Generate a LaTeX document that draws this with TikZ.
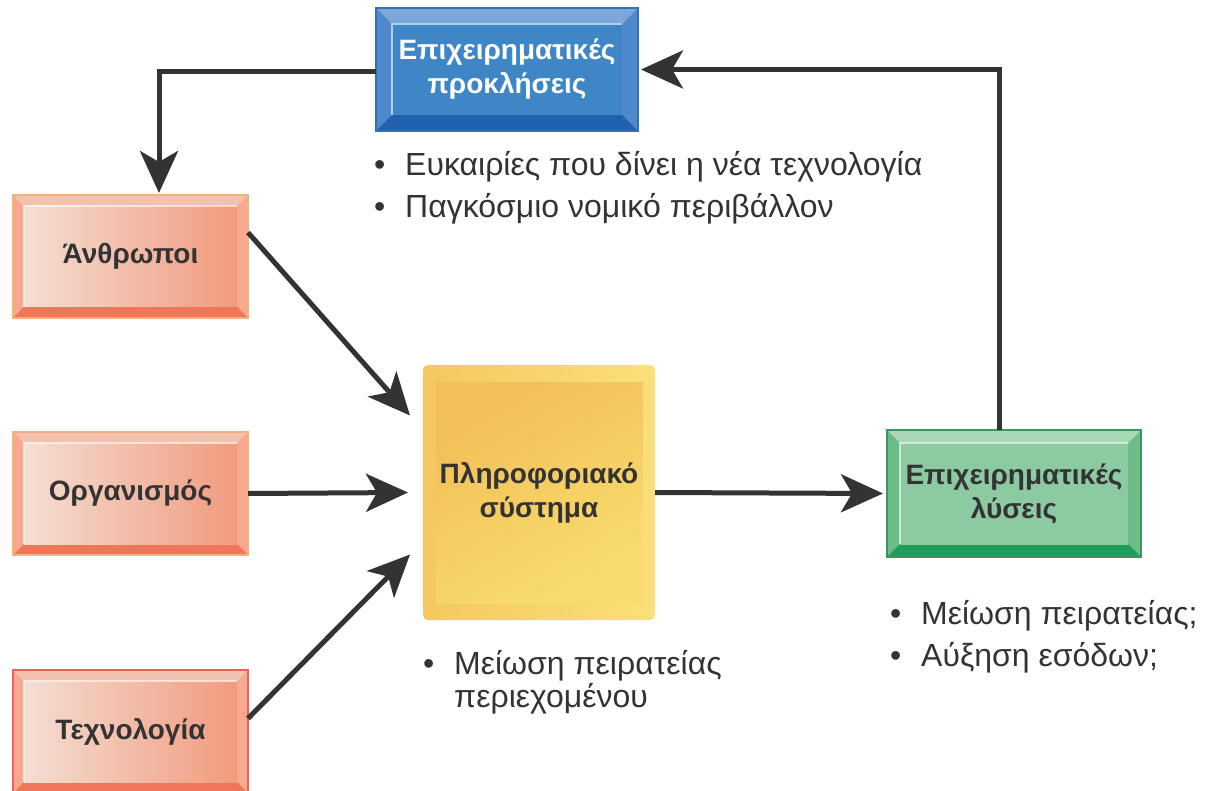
\documentclass[tikz,border=0pt]{standalone}
\usepackage{fontspec}
\setmainfont{Liberation Sans}
\usetikzlibrary{calc,arrows.meta,backgrounds}
\definecolor{ink}{HTML}{333333}
% salmon
\definecolor{salbd}{HTML}{F2B27A}
\definecolor{saltop}{HTML}{F3C2AE}
\definecolor{salside}{HTML}{F7A88E}
\definecolor{salbot}{HTML}{F0765A}
\definecolor{salinL}{HTML}{F4DED3}
\definecolor{salinR}{HTML}{F19B7E}
\definecolor{tecbd}{HTML}{F0605A}
% blue
\definecolor{blubd}{HTML}{2F72B8}
\definecolor{blutop}{HTML}{7BA7DA}
\definecolor{bluside}{HTML}{4F89CC}
\definecolor{blubot}{HTML}{1F62AE}
\definecolor{bluin}{HTML}{3E86C6}
% green
\definecolor{grnbd}{HTML}{3C9560}
\definecolor{grntop}{HTML}{A8D9B4}
\definecolor{grnside}{HTML}{6DBC88}
\definecolor{grnbot}{HTML}{1E9E58}
\definecolor{grnin}{HTML}{8CCAA2}
% yellow
\definecolor{yelA}{HTML}{F5C85E}
\definecolor{yelB}{HTML}{FAE07A}
\definecolor{yelC}{HTML}{F2BF58}
\definecolor{yelD}{HTML}{F8DD6E}
% bevel macro: name, border, top, side, bottom, inner-left, inner-right, width
\newcommand\bevbox[8]{%
  \fill[#4] (#1.north west) rectangle (#1.south east);
  \fill[#3] (#1.north west) -- (#1.north east) -- ($(#1.north east)+(-#8,#8)$) -- ($(#1.north west)+(#8,#8)$) -- cycle;
  \fill[#5] (#1.south west) -- (#1.south east) -- ($(#1.south east)+(-#8,-#8)$) -- ($(#1.south west)+(#8,-#8)$) -- cycle;
  \shade[left color=#6, right color=#7] ($(#1.north west)+(#8,#8)$) rectangle ($(#1.south east)+(-#8,-#8)$);
  \draw[white, opacity=0.6, line width=1.2pt] ($(#1.south west)+(#8,-#8)$) -- ($(#1.north west)+(#8,#8)$) -- ($(#1.north east)+(-#8,#8)$);
  \draw[#2, line width=1.5pt] (#1.north west) rectangle (#1.south east);
}
\newcommand\bl{\makebox[31pt][l]{•}}
\tikzset{
  lbl/.style={inner sep=0pt, outer sep=0pt, align=center, text=ink,
    font=\fontsize{28}{34}\selectfont\bfseries},
  bul/.style={inner sep=0pt, anchor=base west, text=ink,
    font=\fontsize{32}{42}\selectfont},
  arr/.style={draw=ink, line width=5pt,
    -{Stealth[length=42pt, width=38pt, inset=11pt]}},
}
\begin{document}
\begin{tikzpicture}[x=1pt, y=-1pt]
\useasboundingbox (0,0) rectangle (1205,791);
% boxes
\node[lbl, text=white, minimum width=262pt, minimum height=123pt] (chal) at (507,69.5) {Επιχειρηματικές\\προκλήσεις};
\node[lbl, minimum width=235pt, minimum height=123pt] (anthr) at (130.5,256.5) {Άνθρωποι};
\node[lbl, minimum width=235pt, minimum height=123pt] (org) at (130.5,493.5) {Οργανισμός};
\node[lbl, minimum width=235pt, minimum height=123pt] (tech) at (130.5,731.5) {Τεχνολογία};
\node[lbl, minimum width=232pt, minimum height=255pt] (info) at (539,492.5) {Πληροφοριακό\\σύστημα};
\node[lbl, minimum width=254pt, minimum height=127pt] (sol) at (1014,493.5) {Επιχειρηματικές\\λύσεις};
\begin{scope}[on background layer]
  \bevbox{chal}{blubd}{blutop}{bluside}{blubot}{bluin}{bluin}{16}
  \bevbox{anthr}{salbd}{saltop}{salside}{salbot}{salinL}{salinR}{11}
  \bevbox{org}{salbd}{saltop}{salside}{salbot}{salinL}{salinR}{11}
  \bevbox{tech}{tecbd}{saltop}{salside}{salbot}{salinL}{salinR}{11}
  \bevbox{sol}{grnbd}{grntop}{grnside}{grnbot}{grnin}{grnin}{13}
  \shade[left color=yelA, right color=yelB, rounded corners=5pt] (info.north west) rectangle (info.south east);
  \shade[top color=yelC, bottom color=yelD, shading angle=30]
    ($(info.north west)+(13,18)$) rectangle ($(info.south east)+(-12,-17)$);
\end{scope}
% bullet texts
\node[bul] (t1) at (374,176) {\bl Ευκαιρίες που δίνει η νέα τεχνολογία};
\node[bul] (t2) at (374,218) {\bl Παγκόσμιο νομικό περιβάλλον};
\node[bul] (t3) at (423,674) {\bl Μείωση πειρατείας};
\node[bul] (t4) at (454,707) {περιεχομένου};
\node[bul] (t5) at (890,624) {\bl Μείωση πειρατείας;};
\node[bul] (t6) at (890,666) {\bl Αύξηση εσόδων;};
% connectors
\draw[arr] ([yshift=-2pt]chal.west) -| ([xshift=28.5pt,yshift=2pt]anthr.north);
\draw[arr] ([xshift=-15pt]sol.north) |- ([xshift=3pt]chal.east);
\draw[arr] ([yshift=24pt]anthr.east) -- ([xshift=-13pt,yshift=77pt]info.west);
\draw[arr] (org.east) -- ([xshift=-15pt]info.west);
\draw[arr] ([yshift=13pt]tech.east) -- ([xshift=-13pt,yshift=-62pt]info.west);
\draw[arr] (info.east) -- ([xshift=-4pt]sol.west);
\end{tikzpicture}
\end{document}
